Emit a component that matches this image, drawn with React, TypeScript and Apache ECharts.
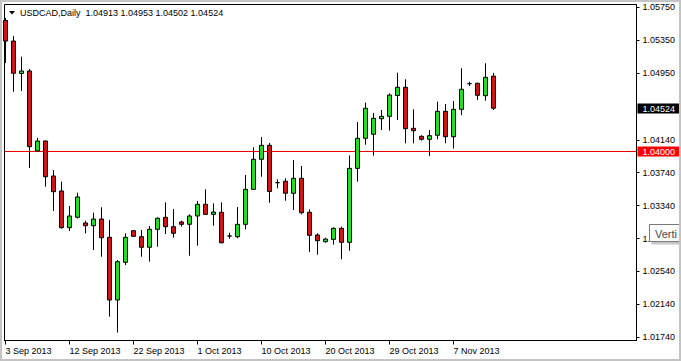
import React, { useEffect, useRef } from "react";
import * as echarts from "echarts";

const symbolName = "USDCAD";
const period = "Daily";

const dates = [
  "3 Sep 2013", "4 Sep 2013", "5 Sep 2013", "6 Sep 2013", "8 Sep 2013", "9 Sep 2013", "10 Sep 2013", "11 Sep 2013",
  "12 Sep 2013", "13 Sep 2013", "15 Sep 2013", "16 Sep 2013", "17 Sep 2013", "18 Sep 2013", "19 Sep 2013", "20 Sep 2013",
  "22 Sep 2013", "23 Sep 2013", "24 Sep 2013", "25 Sep 2013", "26 Sep 2013", "27 Sep 2013", "29 Sep 2013", "30 Sep 2013",
  "1 Oct 2013", "2 Oct 2013", "3 Oct 2013", "4 Oct 2013", "6 Oct 2013", "7 Oct 2013", "8 Oct 2013", "9 Oct 2013",
  "10 Oct 2013", "11 Oct 2013", "13 Oct 2013", "14 Oct 2013", "15 Oct 2013", "16 Oct 2013", "17 Oct 2013", "18 Oct 2013",
  "20 Oct 2013", "21 Oct 2013", "22 Oct 2013", "23 Oct 2013", "24 Oct 2013", "25 Oct 2013", "27 Oct 2013", "28 Oct 2013",
  "29 Oct 2013", "30 Oct 2013", "31 Oct 2013", "1 Nov 2013", "3 Nov 2013", "4 Nov 2013", "5 Nov 2013", "6 Nov 2013",
  "7 Nov 2013", "8 Nov 2013", "10 Nov 2013", "11 Nov 2013", "12 Nov 2013", "13 Nov 2013",
];

const opens = [
  1.0559, 1.0534, 1.04946, 1.04976, 1.04004, 1.04125, 1.037, 1.03518, 1.03072, 1.03198,
  1.03129, 1.03096, 1.03177, 1.02955, 1.02193, 1.02651, 1.03035, 1.02962, 1.02834, 1.03052,
  1.03198, 1.03084, 1.03141, 1.03113, 1.03214, 1.03356, 1.03234, 1.03259, 1.02971, 1.02962,
  1.03113, 1.03538, 1.03903, 1.04073, 1.03619, 1.03636, 1.0349, 1.03672, 1.03259, 1.02983,
  1.02902, 1.0293, 1.03064, 1.02894, 1.03793, 1.04158, 1.04207, 1.04396, 1.04425, 1.04678,
  1.04778, 1.0428, 1.04182, 1.04146, 1.04195, 1.04486, 1.04177, 1.0451, 1.04822, 1.04826,
  1.04676, 1.04913,
];

const highs = [
  1.0562, 1.05401, 1.0515, 1.05, 1.04165, 1.0413, 1.03773, 1.03631, 1.03335, 1.03497,
  1.03157, 1.03254, 1.0332, 1.03165, 1.02679, 1.03004, 1.0304, 1.03044, 1.03092, 1.03198,
  1.0338, 1.03299, 1.03157, 1.03234, 1.03396, 1.03538, 1.03368, 1.0338, 1.03011, 1.03323,
  1.03712, 1.04049, 1.04174, 1.04101, 1.0366, 1.03672, 1.03894, 1.03821, 1.03295, 1.03004,
  1.0295, 1.03075, 1.03084, 1.03951, 1.04356, 1.04591, 1.04466, 1.04502, 1.04705, 1.04955,
  1.04875, 1.0451, 1.04195, 1.04259, 1.04603, 1.04575, 1.04611, 1.05009, 1.04846, 1.04835,
  1.0507, 1.04953,
];

const lows = [
  1.05073, 1.04724, 1.04733, 1.03797, 1.03995, 1.0357, 1.03275, 1.0306, 1.03032, 1.03185,
  1.03004, 1.02801, 1.02719, 1.0199, 1.01796, 1.02618, 1.02962, 1.02719, 1.02659, 1.02841,
  1.02995, 1.0295, 1.03084, 1.02731, 1.02853, 1.03226, 1.03096, 1.02882, 1.02938, 1.02943,
  1.03052, 1.0353, 1.03691, 1.03375, 1.0355, 1.034, 1.03287, 1.03234, 1.02776, 1.02744,
  1.0289, 1.02865, 1.02688, 1.02792, 1.03631, 1.0408, 1.03947, 1.04259, 1.04253, 1.0438,
  1.04097, 1.04097, 1.0413, 1.03943, 1.04146, 1.04097, 1.04032, 1.04438, 1.04794, 1.04624,
  1.04615, 1.04502,
];

const closes = [
  1.0534, 1.04948, 1.04976, 1.04056, 1.04125, 1.03691, 1.03509, 1.03072, 1.03214, 1.03445,
  1.03096, 1.03177, 1.0295, 1.02193, 1.02659, 1.02955, 1.02967, 1.02834, 1.03052, 1.03186,
  1.03084, 1.03004, 1.03113, 1.03214, 1.03356, 1.03234, 1.03262, 1.02889, 1.02971, 1.03113,
  1.03538, 1.03903, 1.04073, 1.03512, 1.03619, 1.0349, 1.03672, 1.03254, 1.02979, 1.02914,
  1.02934, 1.03064, 1.02894, 1.03793, 1.04158, 1.04523, 1.04401, 1.04425, 1.04684, 1.04778,
  1.04275, 1.0425, 1.04146, 1.0419, 1.04486, 1.04177, 1.0451, 1.04754, 1.04822, 1.04681,
  1.04899, 1.04524,
];

const priceTicks = [1.0575, 1.0535, 1.0495, 1.0414, 1.0374, 1.0334, 1.0294, 1.0254, 1.0214, 1.0174];
const dateTickIdx = [0, 8, 16, 24, 32, 40, 48, 56];
const levelLine = 1.04;

const FONT = "'Liberation Sans', Arial, sans-serif";
const GREEN = "#1ee01e";
const RED = "#d01414";

export default function App() {
  const ref = useRef<HTMLDivElement | null>(null);

  useEffect(() => {
    document.body.style.margin = "0";
    document.body.style.background = "#ffffff";
    if (!ref.current) return;
    const chart = echarts.init(ref.current, undefined, { renderer: "svg" });
    const data = dates.map((_, i) => [i, opens[i], closes[i], lows[i], highs[i]]);
    const last = closes.length - 1;
    const titleText =
      `${symbolName},${period}  ` +
      [opens[last], highs[last], lows[last], closes[last]].map((v) => v.toFixed(5)).join(" ");

    const option: any = {
      animation: false,
      backgroundColor: "#ffffff",
      grid: {
        left: 4.5,
        right: 44.5,
        top: 4.5,
        bottom: 20.5,
        containLabel: false,
        outerBoundsMode: "none",
        show: true,
        borderColor: "#000",
        borderWidth: 1,
        backgroundColor: "#ffffff",
      },
      xAxis: {
        type: "value",
        min: -0.125,
        max: 78.875,
        splitLine: { show: false },
        axisLine: { show: true, onZero: false, lineStyle: { color: "#000", width: 1 } },
        axisTick: { show: true, length: 4, customValues: dateTickIdx, lineStyle: { color: "#000" } },
        axisLabel: {
          show: true,
          customValues: dateTickIdx,
          formatter: (v: number) => dates[Math.round(v)] ?? "",
          align: "left",
          margin: 6,
          color: "#000",
          fontSize: 9,
          fontFamily: FONT,
        },
      },
      yAxis: {
        type: "value",
        position: "right",
        min: 1.01701,
        max: 1.05784,
        scale: true,
        splitLine: { show: false },
        axisLine: { show: true, onZero: false, lineStyle: { color: "#000", width: 1 } },
        axisTick: { show: true, length: 3, customValues: priceTicks, lineStyle: { color: "#000" } },
        axisLabel: {
          show: true,
          customValues: priceTicks,
          formatter: (v: number) => v.toFixed(5),
          margin: 6,
          color: "#000",
          fontSize: 9,
          fontFamily: FONT,
        },
      },
      title: {
        text: titleText,
        left: 20,
        top: 8,
        padding: 0,
        textStyle: { fontSize: 9, fontWeight: "normal", color: "#000", fontFamily: FONT },
      },
      series: [
        {
          type: "candlestick",
          z: 5,
          data,
          barWidth: 4,
          itemStyle: {
            color: GREEN,
            color0: RED,
            borderColor: "#000",
            borderColor0: "#000",
            borderColorDoji: "#000",
            borderWidth: 1,
          },
        },
      ],
    };
    chart.setOption(option);

    const yLevel = Math.round(chart.convertToPixel({ yAxisIndex: 0 }, levelLine) as number);
    const yLast = Math.round(chart.convertToPixel({ yAxisIndex: 0 }, closes[last]) as number);

    chart.setOption({
      graphic: [
        {
          type: "rect",
          z: 1,
          shape: { x: 5, y: yLevel, width: 631, height: 1 },
          style: { fill: "#f00000" },
          silent: true,
        },
        {
          type: "polygon",
          z: 50,
          shape: { points: [[9, 11], [15, 11], [12, 14.5]] },
          style: { fill: "#000" },
        },
        {
          type: "rect",
          z: 50,
          shape: { x: 637.5, y: yLast - 4.5, width: 42, height: 10 },
          style: { fill: "#000" },
        },
        {
          type: "text",
          z: 51,
          x: 642.5,
          y: yLast + 0.5,
          style: {
            text: closes[last].toFixed(5),
            fill: "#fff",
            fontSize: 9,
            fontFamily: FONT,
            verticalAlign: "middle",
            align: "left",
          },
        },
        {
          type: "rect",
          z: 50,
          shape: { x: 637.5, y: yLevel - 4.5, width: 42, height: 10 },
          style: { fill: "#ff0000" },
        },
        {
          type: "text",
          z: 51,
          x: 642.5,
          y: yLevel + 0.5,
          style: {
            text: levelLine.toFixed(5),
            fill: "#fff",
            fontSize: 9,
            fontFamily: FONT,
            verticalAlign: "middle",
            align: "left",
          },
        },
        {
          type: "rect",
          z: 60,
          shape: { x: 651.5, y: 226.5, width: 40, height: 18 },
          style: { fill: "#c8c8c8" },
        },
        {
          type: "rect",
          z: 61,
          shape: { x: 649.5, y: 224.5, width: 40, height: 17 },
          style: { fill: "#fbfbfb", stroke: "#7a7a7a", lineWidth: 1 },
        },
        {
          type: "text",
          z: 62,
          x: 655,
          y: 233.5,
          style: {
            text: "Verti",
            fill: "#4a4a4a",
            fontSize: 11,
            fontFamily: FONT,
            verticalAlign: "middle",
            align: "left",
          },
        },
        {
          type: "rect",
          z: 70,
          shape: { x: 1, y: 1, width: 679, height: 359 },
          style: { fill: "none", stroke: "#c4c4c4", lineWidth: 2 },
          silent: true,
        },
      ],
    });

    return () => {
      chart.dispose();
    };
  }, []);

  return <div ref={ref} style={{ width: 681, height: 361 }} />;
}
